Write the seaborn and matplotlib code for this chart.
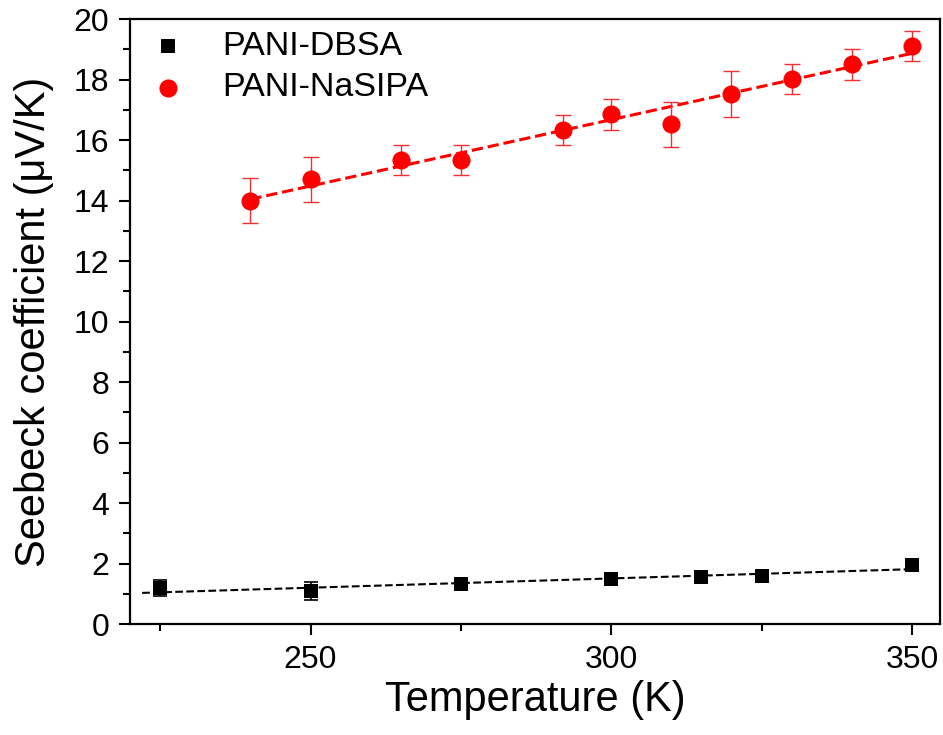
import matplotlib

matplotlib.use("Agg")
import matplotlib.pyplot as plt
import numpy as np
import pandas as pd
import seaborn as sns
from matplotlib.ticker import MultipleLocator

sns.set_style("ticks")
plt.rcParams["font.family"] = ["Liberation Sans", "DejaVu Sans"]
plt.rcParams["text.color"] = "black"
plt.rcParams["axes.labelcolor"] = "black"
plt.rcParams["xtick.color"] = "black"
plt.rcParams["ytick.color"] = "black"
plt.rcParams["axes.edgecolor"] = "black"

# PANI-DBSA
dbsa_temp = [225, 250, 275, 300, 315, 325, 350]
dbsa_seebeck = [1.19, 1.09, 1.32, 1.49, 1.55, 1.59, 1.95]
dbsa_err = [0.25, 0.3, 0.2, 0.2, 0.2, 0.2, 0.15]

# PANI-NaSIPA
nasipa_temp = [240, 250, 265, 275, 292, 300, 310, 320, 330, 340, 350]
nasipa_seebeck = [14.0, 14.7, 15.33, 15.33, 16.33, 16.85, 16.52, 17.52, 18.02, 18.5, 19.1]
nasipa_err = [0.75, 0.75, 0.5, 0.5, 0.5, 0.5, 0.75, 0.75, 0.5, 0.5, 0.5]

df_dbsa = pd.DataFrame({"T": dbsa_temp, "S": dbsa_seebeck, "err": dbsa_err})
df_nasipa = pd.DataFrame({"T": nasipa_temp, "S": nasipa_seebeck, "err": nasipa_err})

fig = plt.figure(figsize=(9.43, 7.35), dpi=100)
ax = fig.add_axes([0.138, 0.151, 0.859, 0.823])

# linear fits
for df, color, lw, x0 in [(df_dbsa, "black", 1.5, 222), (df_nasipa, "red", 2.2, 240)]:
    k, b = np.polyfit(df["T"], df["S"], 1)
    xs = np.array([x0, 350])
    sns.lineplot(x=xs, y=k * xs + b, ax=ax, color=color, lw=lw, dashes=(3, 3),
                 linestyle="--", legend=False)

ax.errorbar(df_dbsa["T"], df_dbsa["S"], yerr=df_dbsa["err"], fmt="none",
            ecolor="black", elinewidth=1.2, capsize=5, capthick=1.2)
ax.errorbar(df_nasipa["T"], df_nasipa["S"], yerr=df_nasipa["err"], fmt="none",
            ecolor="#f03030", elinewidth=1.0, capsize=6, capthick=1.0)

sns.scatterplot(data=df_dbsa, x="T", y="S", ax=ax, marker="s", s=105, color="black",
                edgecolor="black", linewidth=0, label="PANI-DBSA", zorder=5)
sns.scatterplot(data=df_nasipa, x="T", y="S", ax=ax, marker="o", s=170, color="red",
                edgecolor="red", linewidth=0, label="PANI-NaSIPA", zorder=5)

ax.set_xlim(220, 354.7)
ax.set_ylim(0, 20)
ax.xaxis.set_major_locator(MultipleLocator(50))
ax.xaxis.set_minor_locator(MultipleLocator(25))
ax.yaxis.set_major_locator(MultipleLocator(2))
ax.yaxis.set_minor_locator(MultipleLocator(1))
ax.tick_params(which="major", direction="out", length=8, width=1.5, labelsize=23, pad=7)
ax.tick_params(which="minor", direction="out", length=5, width=1.5)
for sp in ax.spines.values():
    sp.set_linewidth(1.6)

ax.set_xlabel("Temperature (K)", fontsize=30, labelpad=4)
ax.set_ylabel("Seebeck coefficient (\u03bcV/K)", fontsize=30, labelpad=14)

ax.legend(loc="upper left", frameon=False, fontsize=24.5, handletextpad=1.1,
          handlelength=1.0, borderaxespad=0.1, labelspacing=0.3,
          bbox_to_anchor=(0.005, 1.008))

fig.savefig("out.png", dpi=100)
